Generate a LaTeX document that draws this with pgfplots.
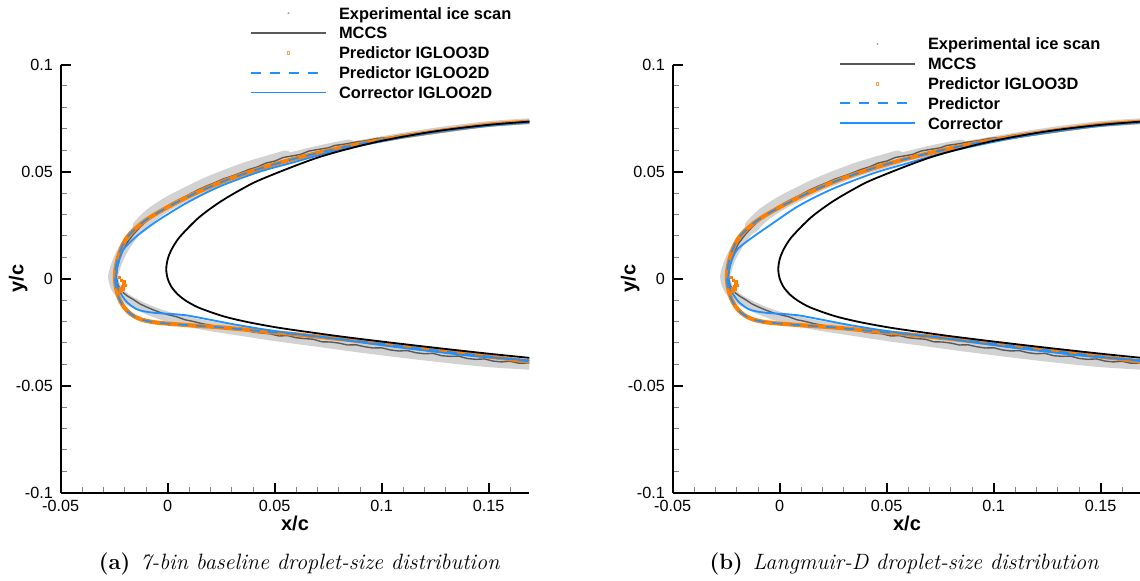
\documentclass[border=0pt]{standalone}
\usepackage{fontspec}
\usepackage{pgfplots}
\pgfplotsset{compat=1.18}
\usepackage{pgfplotstable}
\newfontfamily\arial{Liberation Sans}
\definecolor{ice}{RGB}{210,210,210}
\definecolor{mccs}{RGB}{90,90,90}
\definecolor{pred3}{RGB}{255,128,0}
\definecolor{dodger}{RGB}{30,144,255}

\pgfplotstableread{
x y
0.175893 0.073846
0.15 0.07184
0.123694 0.068625
0.097114 0.063752
0.070506 0.056677
0.044266 0.046629
0.034019 0.041508
0.024021 0.035537
0.014414 0.028405
0.005504 0.019326
0.001607 0.013217
0.000017 0.009109
-0.000606 0.005624
-0.00059 0.00302
0 0
0.00119 -0.00284
0.002606 -0.005017
0.004983 -0.007603
0.008393 -0.010247
0.014496 -0.013542
0.025586 -0.017451
0.035979 -0.019995
0.045981 -0.02193
0.055734 -0.023533
0.079494 -0.026843
0.102886 -0.029726
0.126306 -0.032449
0.15 -0.035064
0.174107 -0.037516
}\airfoil

\pgfplotstableread{
x y
0.169 0.0735
0.15 0.0722
0.13 0.0698
0.11 0.0668
0.095 0.0642
0.08 0.0616
}\bandtip

\pgfplotstableread{
x y
0.085 0.0627
0.07 0.0597
0.05 0.0547
0.035 0.0500
0.02 0.0440
0.01 0.0395
0.0 0.0343
-0.008 0.0290
-0.015 0.0220
-0.02 0.0150
-0.0235 0.0080
-0.0255 0.001
-0.024 -0.0045
-0.0205 -0.0085
-0.015 -0.0118
-0.008 -0.0150
0.0 -0.0178
0.01 -0.0203
0.02 -0.0222
0.035 -0.0245
0.05 -0.0268
0.07 -0.0295
0.09 -0.0322
0.11 -0.0347
0.13 -0.0370
0.15 -0.0390
0.169 -0.0402
}\band

\pgfplotstableread{
x y
0.055 0.0566
0.045 0.0537
0.035 0.0506
0.02 0.0448
0.01 0.0401
0.0 0.0349
-0.008 0.0295
-0.013 0.0245
}\bandup

\pgfplotstableread{
x y
0.169 0.0735
0.155 0.0726
0.14 0.0712
0.125 0.0692
0.115 0.0678
0.108 0.0668
0.104 0.0660
0.098 0.0655
0.093 0.0645
0.088 0.0638
0.083 0.0629
0.078 0.0622
0.075 0.0611
0.070 0.0603
0.066 0.0596
0.062 0.0580
0.058 0.0573
0.054 0.0566
0.050 0.0549
0.046 0.0540
0.042 0.0522
0.038 0.0510
0.034 0.0494
0.030 0.0479
0.026 0.0466
0.022 0.0448
0.018 0.0432
0.014 0.0414
0.010 0.0393
0.006 0.0373
0.002 0.0352
-0.002 0.0328
-0.006 0.0300
-0.010 0.0268
-0.013 0.0240
-0.016 0.0207
-0.019 0.0168
-0.021 0.0130
-0.0225 0.0092
-0.0235 0.0052
-0.024 0.0010
-0.0232 -0.0030
-0.0215 -0.0060
-0.019 -0.0080
-0.016 -0.0098
-0.013 -0.0118
-0.010 -0.0132
-0.0067 -0.0146
-0.003 -0.0160
0.0 -0.0168
0.0042 -0.0178
0.008 -0.0192
0.012 -0.0200
0.0151 -0.0208
0.019 -0.0216
0.023 -0.0224
0.0276 -0.0229
0.032 -0.0236
0.036 -0.0238
0.040 -0.0250
0.044 -0.0254
0.048 -0.0258
0.052 -0.0268
0.056 -0.0266
0.060 -0.0276
0.064 -0.0280
0.068 -0.0283
0.072 -0.0295
0.076 -0.0296
0.080 -0.0301
0.084 -0.0310
0.088 -0.0309
0.092 -0.0318
0.096 -0.0324
0.100 -0.0323
0.104 -0.0333
0.108 -0.0338
0.112 -0.0336
0.116 -0.0346
0.120 -0.0351
0.124 -0.0349
0.128 -0.0360
0.132 -0.0363
0.136 -0.0362
0.140 -0.0373
0.144 -0.0377
0.148 -0.0375
0.152 -0.0385
0.156 -0.0389
0.160 -0.0386
0.164 -0.0395
0.169 -0.0394
}\mccs

\pgfplotstableread{
x y
0.169 0.0733
0.15 0.0719
0.13 0.0693
0.11 0.0664
0.09 0.0630
0.075 0.0598
0.06 0.0562
0.045 0.0520
0.03 0.0470
0.02 0.0430
0.01 0.0385
0.0 0.0334
-0.006 0.0300
-0.011 0.0268
-0.0155 0.0230
-0.0192 0.0190
-0.0218 0.0140
-0.0236 0.0085
-0.0245 0.0035
-0.0246 -0.0010
-0.0240 -0.0050
-0.0228 -0.0090
-0.0210 -0.0125
-0.0185 -0.0155
-0.0155 -0.0177
-0.0120 -0.0192
-0.0080 -0.0201
-0.0036 -0.0207
0.005 -0.0214
0.012 -0.0219
0.024 -0.0227
0.035 -0.0237
0.045 -0.0247
0.0576 -0.0258
0.075 -0.0276
0.0915 -0.0294
0.11 -0.0316
0.1256 -0.0335
0.15 -0.0364
0.169 -0.0387
}\pred

\pgfplotstableread{
x y
-0.0215 -0.0010
-0.0207 -0.0022
-0.0212 -0.0035
-0.0200 -0.0030
-0.0222 -0.0045
-0.0208 -0.0048
-0.0226 0.0005
-0.0219 -0.0060
-0.0203 -0.0015
-0.0232 -0.0070
}\scat

\pgfplotstableread{
x y
0.169 0.0729
0.15 0.0714
0.13 0.0690
0.11 0.0660
0.0915 0.0624
0.075 0.0588
0.0576 0.0540
0.0431 0.0500
0.0244 0.0431
0.0089 0.0354
-0.0051 0.0268
-0.0145 0.0198
-0.0207 0.0136
-0.0231 0.0073
-0.0242 0.0011
-0.0236 -0.0030
-0.0222 -0.0065
-0.0192 -0.0108
-0.0150 -0.0140
-0.0114 -0.0152
-0.0060 -0.0160
0.0 -0.0164
0.0042 -0.0167
0.0085 -0.0171
0.012 -0.0177
0.0198 -0.0192
0.0307 -0.0213
0.0431 -0.0234
0.0576 -0.0255
0.0746 -0.0276
0.0915 -0.0299
0.1086 -0.0322
0.1256 -0.0342
0.1425 -0.0361
0.169 -0.0382
}\corrA

\pgfplotstableread{
x y
0.169 0.0729
0.15 0.0714
0.13 0.0689
0.11 0.0658
0.0915 0.0621
0.075 0.0583
0.0576 0.0533
0.0431 0.0490
0.0244 0.0418
0.0089 0.0340
-0.0045 0.0250
-0.0145 0.0180
-0.0201 0.0133
-0.0228 0.0073
-0.0240 0.0011
-0.0236 -0.0030
-0.0222 -0.0065
-0.0192 -0.0108
-0.0150 -0.0140
-0.0114 -0.0152
-0.0060 -0.0160
0.0 -0.0164
0.0042 -0.0167
0.0085 -0.0171
0.012 -0.0177
0.0198 -0.0192
0.0307 -0.0213
0.0431 -0.0234
0.0576 -0.0255
0.0746 -0.0276
0.0915 -0.0299
0.1086 -0.0322
0.1256 -0.0342
0.1425 -0.0361
0.169 -0.0382
}\corrB

\pgfplotsset{
  expimg/.style={legend image code/.code={\path[draw=none] (0pt,0pt) -- (37.3pt,0pt);
      \path[draw=none, fill=ice!75!black] (18.6pt,0pt) circle (0.55pt);}},
  p3img/.style={legend image code/.code={\path[draw=none] (0pt,0pt) -- (37.3pt,0pt);
      \path[draw=pred3!70, fill=none, line width=0.4pt] (17.9pt,-0.7pt) rectangle (19.3pt,0.7pt);}},
  panel/.style={
    scale only axis, width=234.3pt, height=214.05pt,
    anchor=south west,
    xmin=-0.05, xmax=0.169, ymin=-0.1, ymax=0.1,
    axis x line*=bottom, axis y line*=left,
    axis line style={line width=1pt, black},
    xtick={-0.05,0,0.05,0.1,0.15},
    xticklabels={-0.05,0,0.05,0.1,0.15},
    ytick={-0.1,-0.05,0,0.05,0.1},
    yticklabels={-0.1,-0.05,0,0.05,0.1},
    minor xtick={-0.04,-0.03,-0.02,-0.01,0.01,0.02,0.03,0.04,0.06,0.07,0.08,0.09,0.11,0.12,0.13,0.14,0.16},
    minor ytick={-0.09,-0.08,-0.07,-0.06,-0.04,-0.03,-0.02,-0.01,0.01,0.02,0.03,0.04,0.06,0.07,0.08,0.09},
    tick align=inside,
    major tick length=5pt, minor tick length=3pt,
    every major tick/.append style={line width=1pt, black},
    every minor tick/.append style={line width=0.5pt, gray},
    tick label style={font=\arial\fontsize{8.1}{9}\selectfont, inner sep=0pt},
    xticklabel style={yshift=-3.5pt},
    yticklabel style={xshift=-3.7pt},
    xlabel={x/c}, ylabel={y/c},
    label style={font=\arial\bfseries\fontsize{10}{12}\selectfont},
    xlabel style={at={(axis description cs:0.5,-0.0724)}, anchor=center},
    ylabel style={at={(axis description cs:-0.0905,0.5)}, anchor=center},
    legend cell align=left,
    legend image code/.code={\draw[##1] (0pt,0pt) -- (37.3pt,0pt);},
    legend style={anchor=north west, draw=none, fill=none, inner sep=0pt, outer sep=0pt,
      row sep=4pt, column sep=6pt,
      font=\arial\bfseries\fontsize{8.2}{9.8}\selectfont,
      nodes={inner sep=0pt, text height=5.9pt, text depth=0pt}},
  },
  bandstyle/.style={forget plot, ice, line join=round, line cap=round, smooth},
}

\begin{document}
\begin{tikzpicture}
\begin{axis}[panel, at={(30.35pt,44.15pt)},
  legend style={at={(axis description cs:0.404,1.1338)}}]
\addplot[bandstyle, line width=3pt] table {\bandtip};
\addplot[bandstyle, line width=5pt] table {\band};
\addplot[bandstyle, line width=7pt] table {\bandup};
\addplot[forget plot, mccs, line width=0.7pt] table {\mccs};
\addplot[forget plot, pred3, line width=2.1pt, smooth] table {\pred};
\addplot[forget plot, pred3, only marks, mark=square*, mark size=0.55pt] table {\scat};
\addplot[forget plot, dodger, line width=0.8pt, dash pattern=on 5pt off 4pt, smooth] table {\pred};
\addplot[forget plot, dodger, line width=0.9pt, smooth] table {\corrA};
\addplot[forget plot, black, line width=0.9pt, smooth] table {\airfoil};
\addlegendimage{expimg}
\addlegendentry{Experimental ice scan}
\addlegendimage{mccs, line width=1.2pt}
\addlegendentry{MCCS}
\addlegendimage{p3img}
\addlegendentry{Predictor IGLOO3D}
\addlegendimage{dodger, line width=0.9pt, dash pattern=on 5pt off 4.4pt}
\addlegendentry{Predictor IGLOO2D}
\addlegendimage{dodger, line width=0.9pt}
\addlegendentry{Corrector IGLOO2D}
\end{axis}
\begin{axis}[panel, at={(336.35pt,44.15pt)},
  legend style={at={(axis description cs:0.355,1.0621)}}]
\addplot[bandstyle, line width=3pt] table {\bandtip};
\addplot[bandstyle, line width=5pt] table {\band};
\addplot[bandstyle, line width=7pt] table {\bandup};
\addplot[forget plot, mccs, line width=0.7pt] table {\mccs};
\addplot[forget plot, pred3, line width=2.1pt, smooth] table {\pred};
\addplot[forget plot, pred3, only marks, mark=square*, mark size=0.55pt] table {\scat};
\addplot[forget plot, dodger, line width=0.8pt, dash pattern=on 5pt off 4pt, smooth] table {\pred};
\addplot[forget plot, dodger, line width=0.9pt, smooth] table {\corrB};
\addplot[forget plot, black, line width=0.9pt, smooth] table {\airfoil};
\addlegendimage{expimg}
\addlegendentry{Experimental ice scan}
\addlegendimage{mccs, line width=1.2pt}
\addlegendentry{MCCS}
\addlegendimage{p3img}
\addlegendentry{Predictor IGLOO3D}
\addlegendimage{dodger, line width=0.9pt, dash pattern=on 5pt off 4.4pt}
\addlegendentry{Predictor}
\addlegendimage{dodger, line width=0.9pt}
\addlegendentry{Corrector}
\end{axis}
\node[font=\fontsize{11.1}{13}\selectfont] at (149.7pt,8.5pt)
  {\textbf{(a)}\hspace{0.45em}\textit{7-bin baseline droplet-size distribution}};
\node[font=\fontsize{11.1}{13}\selectfont] at (452.15pt,8.5pt)
  {\textbf{(b)}\hspace{0.45em}\textit{Langmuir-D droplet-size distribution}};
\pgfresetboundingbox
\useasboundingbox (0pt,0pt) rectangle (570pt,290.5pt);
\end{tikzpicture}
\end{document}
